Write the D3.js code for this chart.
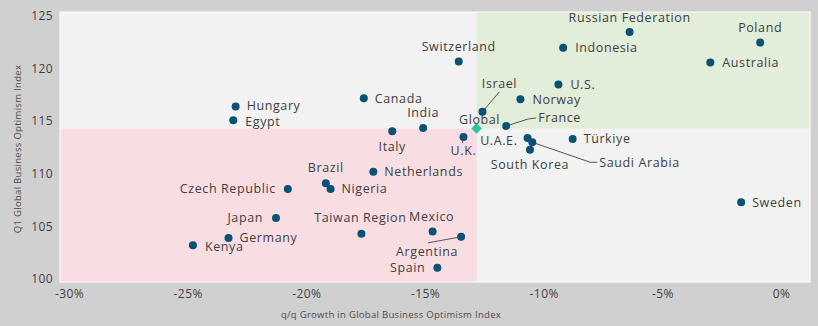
<!DOCTYPE html>
<html>
<head>
<meta charset="utf-8">
<script src="https://cdn.jsdelivr.net/npm/d3@7"></script>
<style>
  html, body { margin: 0; padding: 0; background: #d1d0d1; }
  svg { display: block; }
  .tick-label { font-family: "Open Sans", sans-serif; font-size: 12px; fill: #3f3f3f; letter-spacing: 0.4px; }
  .axis-title { font-family: "Open Sans", sans-serif; font-size: 9.5px; fill: #4a4a4a; letter-spacing: 0.3px; }
  .pt-label { font-family: "Open Sans", sans-serif; font-size: 12.5px; fill: #404040; letter-spacing: 0.6px; }
  .leader { stroke: #555; stroke-width: 1; fill: none; }
</style>
</head>
<body>
<div id="chart"></div>
<script>
// Data: q/q growth (%) and Q1 index
const countries = [
  'Russian Federation', 'Poland', 'Indonesia', 'Australia', 'Switzerland',
  'U.S.', 'Norway', 'Israel', 'Canada', 'Hungary', 'Egypt', 'India', 'Italy',
  'France', 'U.K.', 'U.A.E.', 'Saudi Arabia', 'South Korea', 'Türkiye', 'Sweden',
  'Brazil', 'Nigeria', 'Netherlands', 'Czech Republic', 'Japan', 'Germany',
  'Kenya', 'Taiwan Region', 'Mexico', 'Argentina', 'Spain'
];
const growth = [
  -6.4, -0.9, -9.2, -3.0, -13.6,
  -9.4, -11.0, -12.6, -17.6, -23.0, -23.1, -15.1, -16.4,
  -11.6, -13.4, -10.7, -10.5, -10.6, -8.8, -1.7,
  -19.2, -19.0, -17.2, -20.8, -21.3, -23.3,
  -24.8, -17.7, -14.7, -13.5, -14.5
];
const index = [
  123.5, 122.5, 122.0, 120.6, 120.7,
  118.5, 117.1, 115.9, 117.2, 116.4, 115.1, 114.35, 114.05,
  114.55, 113.5, 113.4, 113.0, 112.3, 113.3, 107.3,
  109.1, 108.55, 110.2, 108.55, 105.8, 103.9,
  103.2, 104.3, 104.5, 104.0, 101.05
];
const globalPoint = { name: 'Global', growth: -12.85, index: 114.3 };
const xTicks = [-30, -25, -20, -15, -10, -5, 0];
const yTicks = [100, 105, 110, 115, 120, 125];

// Label placement (pixel offsets from the point)
const labelPos = {
  'Russian Federation': { dx: 0, dy: -14, anchor: 'middle' },
  'Poland': { dx: 0, dy: -15, anchor: 'middle' },
  'Indonesia': { dx: 12, dy: 0, anchor: 'start' },
  'Australia': { dx: 12, dy: 0, anchor: 'start' },
  'Switzerland': { dx: 0, dy: -15, anchor: 'middle' },
  'U.S.': { dx: 12, dy: 0, anchor: 'start' },
  'Norway': { dx: 12, dy: 0, anchor: 'start' },
  'Israel': { dx: 17, dy: -28, anchor: 'middle', leader: [[0, 0], [17, -20]] },
  'Canada': { dx: 11, dy: 0, anchor: 'start' },
  'Hungary': { dx: 11, dy: -1, anchor: 'start' },
  'Egypt': { dx: 12, dy: 1, anchor: 'start' },
  'India': { dx: 0, dy: -15, anchor: 'middle' },
  'Italy': { dx: 0, dy: 15, anchor: 'middle' },
  'France': { dx: 32, dy: -8, anchor: 'start', leader: [[0, 0], [22, -7], [30, -8]] },
  'U.K.': { dx: 0, dy: 14, anchor: 'middle', leader: [[0, 0], [-1, 6]] },
  'U.A.E.': { dx: -10, dy: 3, anchor: 'end' },
  'Saudi Arabia': { dx: 67, dy: 20, anchor: 'start', leader: [[0, 0], [58, 20], [65, 20]] },
  'South Korea': { dx: 0, dy: 15, anchor: 'middle' },
  'Türkiye': { dx: 11, dy: 0, anchor: 'start' },
  'Sweden': { dx: 11, dy: 0, anchor: 'start' },
  'Brazil': { dx: 0, dy: -16, anchor: 'middle' },
  'Nigeria': { dx: 11, dy: 0, anchor: 'start' },
  'Netherlands': { dx: 11, dy: 0, anchor: 'start' },
  'Czech Republic': { dx: -12, dy: 0, anchor: 'end' },
  'Japan': { dx: -13, dy: 0, anchor: 'end' },
  'Germany': { dx: 11, dy: 0, anchor: 'start' },
  'Kenya': { dx: 12, dy: 1, anchor: 'start' },
  'Taiwan Region': { dx: -1, dy: -16, anchor: 'middle' },
  'Mexico': { dx: -1, dy: -15, anchor: 'middle' },
  'Argentina': { dx: -34, dy: 15, anchor: 'middle', leader: [[0, 0], [-33, 6]] },
  'Spain': { dx: -12, dy: 0, anchor: 'end' },
  'Global': { dx: 3, dy: -9, anchor: 'middle' }
};

const W = 818, H = 326;
const plot = { left: 60, right: 810, top: 12, bottom: 282 };

const svg = d3.select('#chart').append('svg')
  .attr('width', W).attr('height', H)
  .attr('viewBox', `0 0 ${W} ${H}`);

svg.append('rect').attr('width', W).attr('height', H).attr('fill', '#d1d0d1');

const x = d3.scaleLinear().domain([-30.4, 1.2]).range([plot.left, plot.right]);
const y = d3.scaleLinear().domain([99.7, 125.4]).range([plot.bottom, plot.top]);

// Plot background and quadrants
svg.append('rect')
  .attr('x', plot.left).attr('y', plot.top)
  .attr('width', plot.right - plot.left).attr('height', plot.bottom - plot.top)
  .attr('fill', '#f2f2f2');

const gx = x(globalPoint.growth), gy = y(globalPoint.index);
svg.append('rect')
  .attr('x', gx).attr('y', plot.top)
  .attr('width', plot.right - gx).attr('height', gy - plot.top)
  .attr('fill', '#e2edda');
svg.append('rect')
  .attr('x', plot.left).attr('y', gy)
  .attr('width', gx - plot.left).attr('height', plot.bottom - gy)
  .attr('fill', '#f8dee3');

svg.append('rect')
  .attr('x', plot.left).attr('y', plot.top)
  .attr('width', plot.right - plot.left).attr('height', plot.bottom - plot.top)
  .attr('fill', 'none').attr('stroke', '#ffffff').attr('stroke-width', 1);

// Axes labels
const axes = svg.append('g');
xTicks.forEach(t => {
  axes.append('text')
    .attr('class', 'tick-label')
    .attr('x', x(t)).attr('y', 298)
    .attr('text-anchor', 'middle')
    .text(t + '%');
});
yTicks.forEach(t => {
  axes.append('text')
    .attr('class', 'tick-label')
    .attr('x', 53).attr('y', y(t))
    .attr('dy', '0.35em')
    .attr('text-anchor', 'end')
    .text(t);
});
axes.append('text')
  .attr('class', 'axis-title')
  .attr('x', 391).attr('y', 318)
  .attr('text-anchor', 'middle')
  .text('q/q Growth in Global Business Optimism Index');
axes.append('text')
  .attr('class', 'axis-title')
  .attr('transform', 'translate(21,149) rotate(-90)')
  .attr('text-anchor', 'middle')
  .text('Q1 Global Business Optimism Index');

// Points
const data = countries.map((name, i) => ({ name, growth: growth[i], index: index[i] }));

const gLeaders = svg.append('g');
const gLabels = svg.append('g');
const gPoints = svg.append('g');

function addLabel(d) {
  const p = labelPos[d.name];
  const px = x(d.growth), py = y(d.index);
  if (p.leader) {
    gLeaders.append('path')
      .attr('class', 'leader')
      .attr('d', d3.line()(p.leader.map(([a, b]) => [px + a, py + b])));
  }
  gLabels.append('text')
    .attr('class', 'pt-label')
    .attr('x', px + p.dx).attr('y', py + p.dy)
    .attr('dy', '0.35em')
    .attr('text-anchor', p.anchor)
    .text(d.name);
}

data.forEach(addLabel);
addLabel(globalPoint);

gPoints.selectAll('circle')
  .data(data)
  .join('circle')
  .attr('cx', d => x(d.growth))
  .attr('cy', d => y(d.index))
  .attr('r', 4)
  .attr('fill', '#0b5174');

gPoints.append('path')
  .attr('d', d3.symbol().type(d3.symbolDiamond2).size(70)())
  .attr('transform', `translate(${gx},${gy})`)
  .attr('fill', '#2fc39d');
</script>
</body>
</html>
